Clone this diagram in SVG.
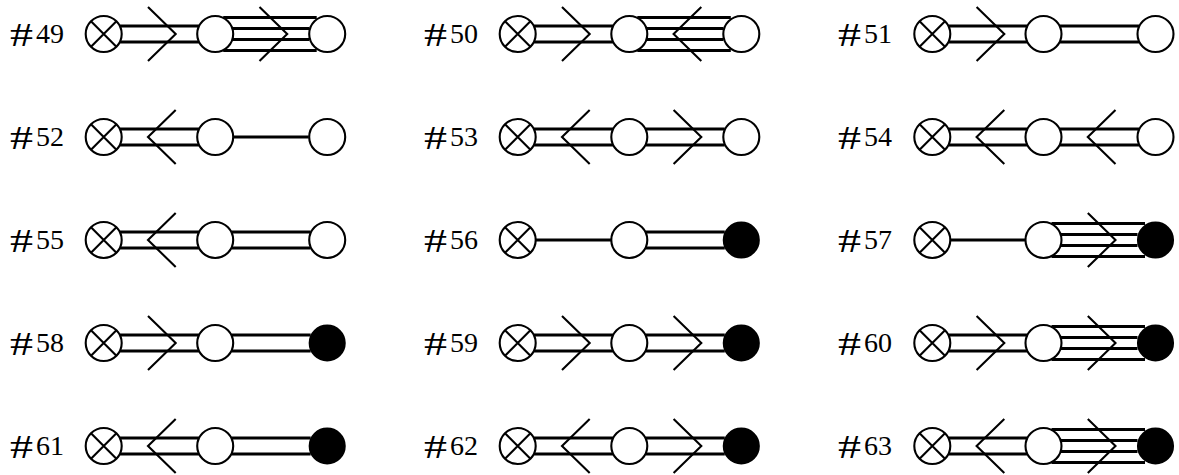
<svg xmlns="http://www.w3.org/2000/svg" width="1179" height="475" viewBox="0 0 1179 475">
<style>
.bg{fill:#fff}
.n{fill:#fff;stroke:#000;stroke-width:2.100}
.b{fill:#000;stroke:#000;stroke-width:2.100}
.x{stroke:#000;stroke-width:2.100;fill:none}
.c{stroke:#000;stroke-width:3.200;fill:none}
.a{stroke:#000;stroke-width:2.100;fill:none}
text{font-family:"Liberation Serif",serif;font-size:28px;fill:#000}
.h{font-size:34px}
</style>
<defs>
<path id="s" class="c" d="M18 0H93.500"/>
<path id="d" class="c" d="M16 -8H95.500M16 8H95.500"/>
<path id="q" class="c" d="M8 -16.500H101.500M8 16.500H101.500M17.500 -5.500H94M17.500 5.500H94"/>
<path id="r" class="a" d="M44.300 -27L72 0L44.300 27"/>
<path id="l" class="a" d="M72 -27L44.300 0L72 27"/>
<g id="xn"><circle class="n" r="18"/><path class="x" d="M-12.700 -12.700L12.700 12.700M-12.700 12.700L12.700 -12.700"/></g>
<circle id="on" class="n" r="18"/>
<circle id="bn" class="b" r="17.500"/>
</defs>
<rect class="bg" width="1179" height="475"/>
<g id="labels">
<text class="h" x="10" y="45.500" textLength="23" lengthAdjust="spacingAndGlyphs">#</text><text x="36" y="42.500">49</text>
<text class="h" x="424" y="45.500" textLength="23" lengthAdjust="spacingAndGlyphs">#</text><text x="450" y="42.500">50</text>
<text class="h" x="838" y="45.500" textLength="23" lengthAdjust="spacingAndGlyphs">#</text><text x="864" y="42.500">51</text>
<text class="h" x="10" y="148.500" textLength="23" lengthAdjust="spacingAndGlyphs">#</text><text x="36" y="145.500">52</text>
<text class="h" x="424" y="148.500" textLength="23" lengthAdjust="spacingAndGlyphs">#</text><text x="450" y="145.500">53</text>
<text class="h" x="838" y="148.500" textLength="23" lengthAdjust="spacingAndGlyphs">#</text><text x="864" y="145.500">54</text>
<text class="h" x="10" y="251.500" textLength="23" lengthAdjust="spacingAndGlyphs">#</text><text x="36" y="248.500">55</text>
<text class="h" x="424" y="251.500" textLength="23" lengthAdjust="spacingAndGlyphs">#</text><text x="450" y="248.500">56</text>
<text class="h" x="838" y="251.500" textLength="23" lengthAdjust="spacingAndGlyphs">#</text><text x="864" y="248.500">57</text>
<text class="h" x="10" y="354.500" textLength="23" lengthAdjust="spacingAndGlyphs">#</text><text x="36" y="351.500">58</text>
<text class="h" x="424" y="354.500" textLength="23" lengthAdjust="spacingAndGlyphs">#</text><text x="450" y="351.500">59</text>
<text class="h" x="838" y="354.500" textLength="23" lengthAdjust="spacingAndGlyphs">#</text><text x="864" y="351.500">60</text>
<text class="h" x="10" y="457.500" textLength="23" lengthAdjust="spacingAndGlyphs">#</text><text x="36" y="454.500">61</text>
<text class="h" x="424" y="457.500" textLength="23" lengthAdjust="spacingAndGlyphs">#</text><text x="450" y="454.500">62</text>
<text class="h" x="838" y="457.500" textLength="23" lengthAdjust="spacingAndGlyphs">#</text><text x="864" y="454.500">63</text>
</g>
<g id="nodes">
<g id="n49a" transform="translate(103.700 34)"><use href="#xn"/></g><g id="n49b" transform="translate(215.200 34)"><use href="#on"/></g><g id="n49c" transform="translate(327.200 34)"><use href="#on"/></g>
<g id="n50a" transform="translate(517.700 34)"><use href="#xn"/></g><g id="n50b" transform="translate(629.300 34)"><use href="#on"/></g><g id="n50c" transform="translate(741.300 34)"><use href="#on"/></g>
<g id="n51a" transform="translate(932.300 34)"><use href="#xn"/></g><g id="n51b" transform="translate(1043.500 34)"><use href="#on"/></g><g id="n51c" transform="translate(1155.500 34)"><use href="#on"/></g>
<g id="n52a" transform="translate(103.700 137)"><use href="#xn"/></g><g id="n52b" transform="translate(215.200 137)"><use href="#on"/></g><g id="n52c" transform="translate(327.200 137)"><use href="#on"/></g>
<g id="n53a" transform="translate(517.700 137)"><use href="#xn"/></g><g id="n53b" transform="translate(629.300 137)"><use href="#on"/></g><g id="n53c" transform="translate(741.300 137)"><use href="#on"/></g>
<g id="n54a" transform="translate(932.300 137)"><use href="#xn"/></g><g id="n54b" transform="translate(1043.500 137)"><use href="#on"/></g><g id="n54c" transform="translate(1155.500 137)"><use href="#on"/></g>
<g id="n55a" transform="translate(103.700 240)"><use href="#xn"/></g><g id="n55b" transform="translate(215.200 240)"><use href="#on"/></g><g id="n55c" transform="translate(327.200 240)"><use href="#on"/></g>
<g id="n56a" transform="translate(517.700 240)"><use href="#xn"/></g><g id="n56b" transform="translate(629.300 240)"><use href="#on"/></g><g id="n56c" transform="translate(741.300 240)"><use href="#bn"/></g>
<g id="n57a" transform="translate(932.300 240)"><use href="#xn"/></g><g id="n57b" transform="translate(1043.500 240)"><use href="#on"/></g><g id="n57c" transform="translate(1155.500 240)"><use href="#bn"/></g>
<g id="n58a" transform="translate(103.700 343)"><use href="#xn"/></g><g id="n58b" transform="translate(215.200 343)"><use href="#on"/></g><g id="n58c" transform="translate(327.200 343)"><use href="#bn"/></g>
<g id="n59a" transform="translate(517.700 343)"><use href="#xn"/></g><g id="n59b" transform="translate(629.300 343)"><use href="#on"/></g><g id="n59c" transform="translate(741.300 343)"><use href="#bn"/></g>
<g id="n60a" transform="translate(932.300 343)"><use href="#xn"/></g><g id="n60b" transform="translate(1043.500 343)"><use href="#on"/></g><g id="n60c" transform="translate(1155.500 343)"><use href="#bn"/></g>
<g id="n61a" transform="translate(103.700 446)"><use href="#xn"/></g><g id="n61b" transform="translate(215.200 446)"><use href="#on"/></g><g id="n61c" transform="translate(327.200 446)"><use href="#bn"/></g>
<g id="n62a" transform="translate(517.700 446)"><use href="#xn"/></g><g id="n62b" transform="translate(629.300 446)"><use href="#on"/></g><g id="n62c" transform="translate(741.300 446)"><use href="#bn"/></g>
<g id="n63a" transform="translate(932.300 446)"><use href="#xn"/></g><g id="n63b" transform="translate(1043.500 446)"><use href="#on"/></g><g id="n63c" transform="translate(1155.500 446)"><use href="#bn"/></g>
</g>
<g id="connectors">
<g transform="translate(103.700 34)"><use href="#d"/><use href="#r"/></g><g transform="translate(215.200 34)"><use href="#q"/><use href="#r"/></g>
<g transform="translate(517.700 34)"><use href="#d"/><use href="#r"/></g><g transform="translate(629.300 34)"><use href="#q"/><use href="#l"/></g>
<g transform="translate(932.300 34)"><use href="#d"/><use href="#r"/></g><g transform="translate(1043.500 34)"><use href="#d"/></g>
<g transform="translate(103.700 137)"><use href="#d"/><use href="#l"/></g><g transform="translate(215.200 137)"><use href="#s"/></g>
<g transform="translate(517.700 137)"><use href="#d"/><use href="#l"/></g><g transform="translate(629.300 137)"><use href="#d"/><use href="#r"/></g>
<g transform="translate(932.300 137)"><use href="#d"/><use href="#l"/></g><g transform="translate(1043.500 137)"><use href="#d"/><use href="#l"/></g>
<g transform="translate(103.700 240)"><use href="#d"/><use href="#l"/></g><g transform="translate(215.200 240)"><use href="#d"/></g>
<g transform="translate(517.700 240)"><use href="#s"/></g><g transform="translate(629.300 240)"><use href="#d"/></g>
<g transform="translate(932.300 240)"><use href="#s"/></g><g transform="translate(1043.500 240)"><use href="#q"/><use href="#r"/></g>
<g transform="translate(103.700 343)"><use href="#d"/><use href="#r"/></g><g transform="translate(215.200 343)"><use href="#d"/></g>
<g transform="translate(517.700 343)"><use href="#d"/><use href="#r"/></g><g transform="translate(629.300 343)"><use href="#d"/><use href="#r"/></g>
<g transform="translate(932.300 343)"><use href="#d"/><use href="#r"/></g><g transform="translate(1043.500 343)"><use href="#q"/><use href="#r"/></g>
<g transform="translate(103.700 446)"><use href="#d"/><use href="#l"/></g><g transform="translate(215.200 446)"><use href="#d"/></g>
<g transform="translate(517.700 446)"><use href="#d"/><use href="#l"/></g><g transform="translate(629.300 446)"><use href="#d"/><use href="#r"/></g>
<g transform="translate(932.300 446)"><use href="#d"/><use href="#l"/></g><g transform="translate(1043.500 446)"><use href="#q"/><use href="#r"/></g>
</g>
</svg>
